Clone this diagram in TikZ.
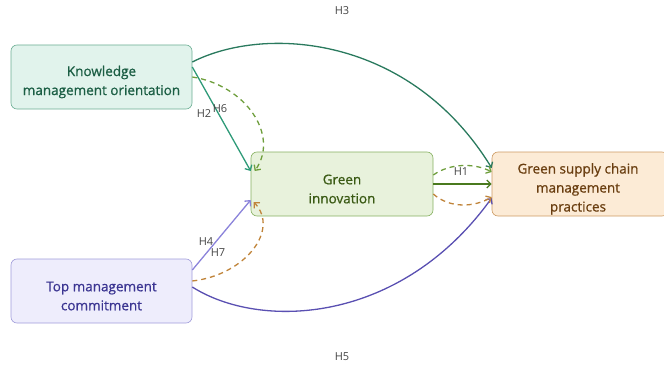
\documentclass[tikz,border=0pt]{standalone}
\usepackage{fontspec}
\setmainfont{Open Sans}
\newfontfamily\boxfont{Open Sans}[FakeBold=0.8]
\usetikzlibrary{arrows.meta,calc}
\definecolor{kfill}{HTML}{E1F3EC}\definecolor{kdraw}{HTML}{6BAE93}\definecolor{ktext}{HTML}{1B5E44}
\definecolor{gfill}{HTML}{E8F2DC}\definecolor{gdraw}{HTML}{86B060}\definecolor{gtext}{HTML}{3A5A14}
\definecolor{sfill}{HTML}{FCEBD6}\definecolor{sdraw}{HTML}{CC9A62}\definecolor{stext}{HTML}{6A3E10}
\definecolor{tfill}{HTML}{EEEDFC}\definecolor{tdraw}{HTML}{A09BDA}\definecolor{ttext}{HTML}{3B3592}
\definecolor{cH3}{HTML}{2A7A5E}\definecolor{cH2}{HTML}{2E9A78}\definecolor{cgd}{HTML}{6E9E3C}
\definecolor{cH1}{HTML}{4A7A1E}\definecolor{cH4}{HTML}{8A82DA}\definecolor{cod}{HTML}{C0843A}
\definecolor{cH5}{HTML}{5A50B2}\definecolor{lab}{HTML}{444444}
\tikzset{
  box/.style={rounded corners=6pt, line width=0.6pt, minimum height=64pt, inner sep=0pt},
  btext/.style={align=center, font=\boxfont\fontsize{13.5}{19}\selectfont, inner sep=0pt},
  conn/.style={line width=1.3pt, -{Straight Barb[length=4pt,width=8pt]}},
  dconn/.style={conn, dash pattern=on 5pt off 4pt},
  hl/.style={text=lab, font=\fontsize{11}{12}\selectfont, inner sep=0pt}
}
\begin{document}
\begin{tikzpicture}[x=1pt,y=1pt]
\useasboundingbox (0,0) rectangle (664,365);
\node[box, fill=kfill, draw=kdraw, minimum width=181pt] (kmo) at (101.5,288) {};
\node[btext, text=ktext] (kmot) at ([yshift=-5pt]kmo.center) {Knowledge\\management orientation};
\node[box, fill=gfill, draw=gdraw, minimum width=182pt] (gi) at (342,181) {};
\node[btext, text=gtext] (git) at ([yshift=-5pt]gi.center) {Green\\innovation};
\node[box, fill=sfill, draw=sdraw, minimum width=176pt] (gs) at (580,181) {};
\node[btext, text=stext] (gst) at ([xshift=-2pt,yshift=-5pt]gs.center) {Green supply chain\\management\\practices};
\node[box, fill=tfill, draw=tdraw, minimum width=181pt] (tmc) at (101.5,74) {};
\node[btext, text=ttext] (tmct) at ([yshift=-5pt]tmc.center) {Top management\\commitment};
% H3
\draw[conn, cH3] ([yshift=15pt]kmo.east) .. controls (265,340) and (410,330) .. ([yshift=16pt]gs.west);
% H2
\draw[conn, cH2] ([yshift=10pt]kmo.east) -- ([yshift=13pt]gi.west);
% H6 dashed
\draw[dconn, cgd] (kmo.east) .. controls (245,280) and (280,230) .. ([xshift=4pt,yshift=13pt]gi.west);
% H4
\draw[conn, cH4] ([yshift=21pt]tmc.east) -- ([yshift=-16pt]gi.west);
% H7 dashed
\draw[dconn, cod] ([yshift=10pt]tmc.east) .. controls (245,90) and (280,135) .. ([xshift=3pt,yshift=-18pt]gi.west);
% H5
\draw[conn, cH5] ([yshift=4pt]tmc.east) .. controls (260,35) and (400,40) .. ([yshift=-14pt]gs.west);
% GI -> GSCM
\draw[dconn, cgd] ([yshift=9pt]gi.east) .. controls (450,202) and (475,202) .. ([yshift=12pt]gs.west);
\draw[conn, cH1] (gi.east) -- (gs.west);
\draw[dconn, cod] ([yshift=-10pt]gi.east) .. controls (450,156) and (475,158) .. ([yshift=-13pt]gs.west);
% labels
\node[hl] (l3) at (342,354) {H3};
\node[hl] (l5) at (342,8) {H5};
\node[hl] (l2) at (204,251) {H2};
\node[hl] (l6) at (220,256) {H6};
\node[hl] (l1) at (461,193) {H1};
\node[hl] (l4) at (206,123) {H4};
\node[hl] (l7) at (218,112) {H7};
\end{tikzpicture}
\end{document}
